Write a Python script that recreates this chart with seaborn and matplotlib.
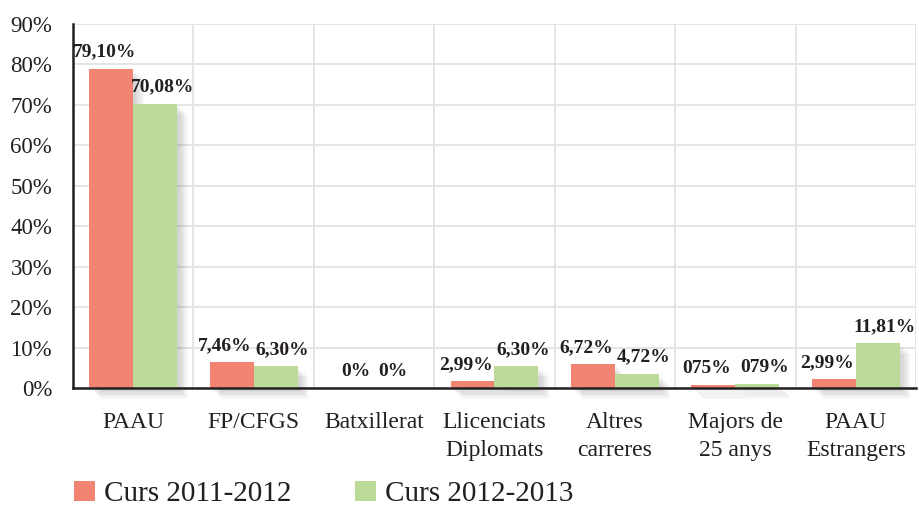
import pandas as pd
import matplotlib
matplotlib.use('Agg')
import matplotlib.pyplot as plt
import matplotlib.patheffects as pe
from matplotlib.patches import Patch
from matplotlib.ticker import FixedLocator, PercentFormatter
import seaborn as sns

# data
categories = ['PAAU', 'FP/CFGS', 'Batxillerat', 'Llicenciats\nDiplomats',
              'Altres\ncarreres', 'Majors de\n25 anys', 'PAAU\nEstrangers']
series_names = ['Curs 2011-2012', 'Curs 2012-2013']
values_2011 = [79.0, 6.4, 0.0, 1.7, 5.9, 0.75, 2.2]
values_2012 = [70.3, 5.4, 0.0, 5.4, 3.5, 1.0, 11.1]
labels_2011 = ['79,10%', '7,46%', '0%', '2,99%', '6,72%', '075%', '2,99%']
labels_2012 = ['70,08%', '6,30%', '0%', '6,30%', '4,72%', '079%', '11,81%']
yticks = [0, 10, 20, 30, 40, 50, 60, 70, 80, 90]

colors = ['#f28474', '#bddb98']
ink = '#231f20'

df = pd.DataFrame({
    'cat': categories * 2,
    'curs': [series_names[0]] * len(categories) + [series_names[1]] * len(categories),
    'val': values_2011 + values_2012,
})

sns.set_style('white')
plt.rcParams['font.family'] = ['Liberation Serif', 'DejaVu Serif']

fig = plt.figure(figsize=(9.19, 5.11), dpi=100)
ax = fig.add_axes([0.0794, 0.2407, 0.9173, 0.7123])

sns.barplot(data=df, x='cat', y='val', hue='curs', palette=colors,
            width=0.73, gap=0, saturation=1, edgecolor='none', legend=False, ax=ax)

# soft drop shadow on the bars
shadow = [pe.SimplePatchShadow(offset=(d, -d), shadow_rgbFace='black', alpha=0.025)
          for d in (8, 7, 6, 5, 4, 3, 2)] + [pe.Normal()]
for bar in ax.patches:
    bar.set_path_effects(shadow)
    bar.set_clip_on(False)

# value labels (the two zero labels sit close together in the original)
for cont, labs, dx in zip(ax.containers, [labels_2011, labels_2012], [-5, 5]):
    for bar, lab in zip(cont, labs):
        shift = dx if bar.get_height() > 0 else -dx * 0.5
        ax.annotate(lab, (bar.get_x() + bar.get_width() / 2, bar.get_height()),
                    xytext=(shift, 6), textcoords='offset points', ha='center', va='bottom',
                    fontsize=14, fontweight='bold', color=ink)

ax.set_xlim(-0.5, len(categories) - 0.5)
ax.set_ylim(0, 90)
ax.set_yticks(yticks)
ax.yaxis.set_major_formatter(PercentFormatter(decimals=0))
ax.set_xticks(range(len(categories)))
ax.set_xticklabels(categories, linespacing=1.45)
ax.xaxis.set_minor_locator(FixedLocator([i - 0.5 for i in range(len(categories) + 1)]))

ax.set_xlabel('')
ax.set_ylabel('')
ax.grid(True, axis='y', color='#e3e3e3', linewidth=1.3)
ax.grid(True, axis='x', which='minor', color='#e3e3e3', linewidth=1.3)
ax.set_axisbelow(True)

for s in ['top', 'right']:
    ax.spines[s].set_visible(False)
for s in ['left', 'bottom']:
    ax.spines[s].set_color(ink)
    ax.spines[s].set_linewidth(1.8)
    ax.spines[s].set_zorder(5)

ax.tick_params(axis='y', direction='inout', length=12, width=1.8, color=ink,
               labelsize=16.5, labelcolor=ink, pad=9)
ax.tick_params(axis='x', which='major', length=0, labelsize=17, labelcolor=ink, pad=17)
ax.tick_params(axis='x', which='minor', direction='inout', length=12, width=1.8, color=ink)

handles = [Patch(facecolor=c, edgecolor='none') for c in colors]
fig.legend(handles, series_names, loc='lower left', bbox_to_anchor=(0.052, -0.044),
           ncol=2, frameon=False, fontsize=21, handlelength=0.72, handleheight=0.72,
           handletextpad=0.3, columnspacing=2.2, labelcolor=ink)

fig.savefig('out.png', dpi=100)
